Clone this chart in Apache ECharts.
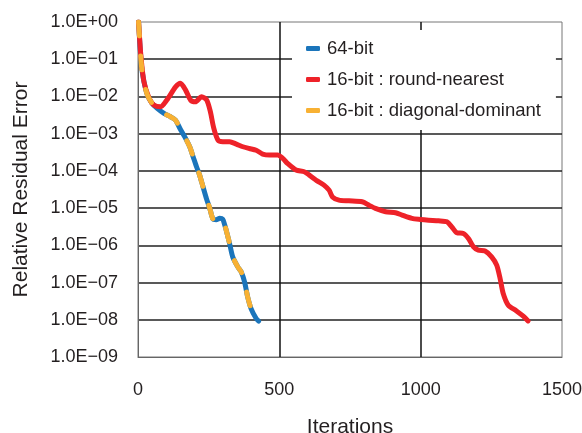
<!DOCTYPE html>
<html>
<head>
<meta charset="utf-8">
<script src="https://cdn.jsdelivr.net/npm/echarts@6/dist/echarts.min.js"></script>
<style>
html,body{margin:0;padding:0;background:#fff;}
#c{width:582px;height:433px;}
</style>
</head>
<body>
<div id="c"></div>
<script>
var seriesNames = ['64-bit', '16-bit : round-nearest', '16-bit : diagonal-dominant'];
var xTicks = [0, 500, 1000, 1500];

var iter64 = [2, 12, 21, 33, 50, 68, 92, 115, 133, 148, 165, 183, 195, 207, 218, 230, 242, 254, 265, 277, 289, 300, 306, 312, 324, 335, 353, 365, 377, 388, 400, 418, 427];
var res64 = [1.0, 0.07, 0.025, 0.011, 0.0065, 0.0048, 0.0035, 0.00285, 0.0023, 0.0014, 8.3e-4, 4.45e-4, 2.4e-4, 1.29e-4, 7.7e-5, 3.74e-5, 1.82e-5, 9.8e-6, 5.1e-6, 4.9e-6, 5.3e-6, 5.0e-6, 3.7e-6, 2.56e-6, 1.12e-6, 4.9e-7, 2.64e-7, 1.94e-7, 1.04e-7, 4.1e-8, 2.0e-8, 1.08e-8, 9.2e-9];

var iterRN = [2, 10, 21, 39, 56, 80, 102, 133, 150, 168, 186, 203, 225, 243, 256, 268, 283, 300, 324, 348, 371, 394, 418, 441, 465, 494, 512, 529, 559, 588, 606, 629, 641, 658, 676, 688, 711, 746, 793, 817, 840, 876, 911, 934, 969, 999, 1028, 1063, 1093, 1110, 1128, 1151, 1169, 1187, 1204, 1228, 1251, 1269, 1281, 1292, 1310, 1339, 1363, 1380];
var resRN = [1.0, 0.13, 0.025, 0.0091, 0.0059, 0.0053, 0.008, 0.018, 0.0225, 0.015, 0.008, 0.0072, 0.0098, 0.008, 0.0039, 0.0014, 6.7e-4, 6.1e-4, 6.1e-4, 5.25e-4, 4.45e-4, 4.0e-4, 3.6e-4, 2.83e-4, 2.66e-4, 2.66e-4, 2.17e-4, 1.59e-4, 1.05e-4, 9.5e-5, 7.7e-5, 5.7e-5, 5.0e-5, 4.15e-5, 3.05e-5, 2.0e-5, 1.64e-5, 1.57e-5, 1.48e-5, 1.2e-5, 9.8e-6, 8.0e-6, 7.5e-6, 6.5e-6, 5.3e-6, 4.97e-6, 4.75e-6, 4.56e-6, 4.28e-6, 3.14e-6, 2.17e-6, 2.09e-6, 1.53e-6, 9.1e-7, 7.4e-7, 7.0e-7, 4.9e-7, 2.94e-7, 1.29e-7, 5.1e-8, 2.47e-8, 1.73e-8, 1.25e-8, 9.3e-9];

var iterDD = [2, 12, 21, 33, 50, 68, 92, 115, 133, 148, 165, 183, 195, 207, 218, 230, 242, 254, 265, 277, 289, 300, 306, 312, 324, 335, 353, 365, 377, 388, 400, 418, 427];
var resDD = [1.0, 0.07, 0.025, 0.011, 0.0065, 0.0048, 0.0035, 0.00285, 0.0023, 0.0014, 8.3e-4, 4.45e-4, 2.4e-4, 1.29e-4, 7.7e-5, 3.74e-5, 1.82e-5, 9.8e-6, 5.1e-6, 4.9e-6, 5.3e-6, 5.0e-6, 3.7e-6, 2.56e-6, 1.12e-6, 4.9e-7, 2.64e-7, 1.94e-7, 1.04e-7, 4.1e-8, 2.0e-8, 1.08e-8, 9.2e-9];

function pairs(xs, ys) { return xs.map(function (x, i) { return [x, ys[i]]; }); }

var FONT = '"Liberation Sans", Arial, sans-serif';
var TXT = '#231f20';
var chart = echarts.init(document.getElementById('c'));
chart.setOption({
  animation: false,
  backgroundColor: '#fff',
  grid: { left: 138, right: 20, top: 22, bottom: 76, outerBoundsMode: 'none', containLabel: false, show: true, borderColor: '#777', borderWidth: 1, backgroundColor: 'transparent' },
  legend: {
    data: seriesNames.map(function (n) { return { name: n }; }),
    orient: 'vertical',
    left: 292, top: 30,
    backgroundColor: '#fff',
    padding: [9, 15, 10, 14],
    itemGap: 12,
    itemWidth: 14, itemHeight: 5,
    icon: 'roundRect',
    textStyle: { fontFamily: FONT, fontSize: 18.5, color: TXT, padding: [0, 0, 0, 2] }
  },
  xAxis: {
    type: 'value', min: xTicks[0], max: xTicks[xTicks.length - 1], interval: 500,
    name: 'Iterations', nameLocation: 'middle', nameGap: 60,
    nameTextStyle: { fontFamily: FONT, fontSize: 21, color: TXT },
    axisLine: { show: true, lineStyle: { color: '#666', width: 1 } },
    axisTick: { show: false },
    axisLabel: { fontFamily: FONT, fontSize: 18, color: TXT, margin: 24, formatter: function (v) { return String(v); } },
    splitLine: { show: true, showMinLine: false, showMaxLine: false, lineStyle: { color: '#111', width: 1.5 } }
  },
  yAxis: {
    type: 'log', logBase: 10, min: 1e-9, max: 1, interval: 1,
    name: 'Relative Residual Error', nameLocation: 'middle', nameGap: 106,
    nameTextStyle: { fontFamily: FONT, fontSize: 21, color: TXT },
    axisLine: { show: true, lineStyle: { color: '#666', width: 1 } },
    axisTick: { show: false },
    axisLabel: {
      fontFamily: FONT, fontSize: 18, color: TXT, margin: 20,
      formatter: function (v) {
        var e = Math.round(Math.log10(v));
        var a = Math.abs(e);
        return '1.0E' + (e >= 0 ? '+' : '\u2212') + (a < 10 ? '0' : '') + a;
      }
    },
    splitLine: { show: true, showMinLine: false, showMaxLine: false, lineStyle: { color: '#222', width: 1.5 } }
  },
  series: [
    {
      name: seriesNames[0], type: 'line', z: 3, smooth: 0.25, symbol: 'none',
      data: pairs(iter64, res64),
      itemStyle: { color: '#1b75bb' },
      lineStyle: { color: '#1b75bb', width: 5, cap: 'round', join: 'round' }
    },
    {
      name: seriesNames[1], type: 'line', z: 4, smooth: 0.25, symbol: 'none',
      data: pairs(iterRN, resRN),
      itemStyle: { color: '#ee2229' },
      lineStyle: { color: '#ee2229', width: 5, cap: 'round', join: 'round' }
    },
    {
      name: seriesNames[2], type: 'line', z: 5, smooth: 0.25, symbol: 'none',
      data: pairs(iterDD, resDD),
      itemStyle: { color: '#f8b133' },
      lineStyle: { color: '#f8b133', width: 5, type: [14, 20], cap: 'round', join: 'round' }
    }
  ]
});
</script>
</body>
</html>
